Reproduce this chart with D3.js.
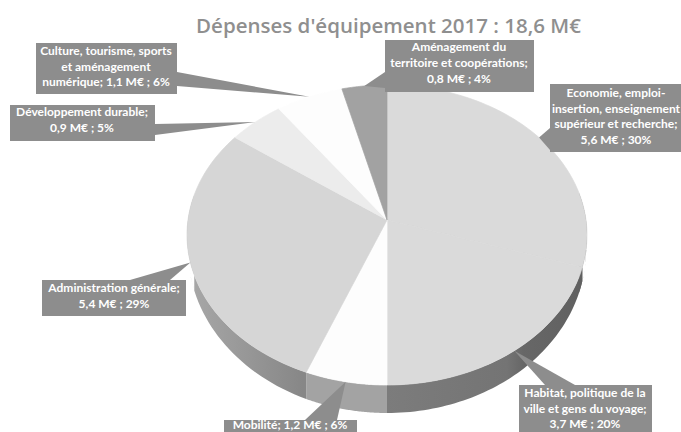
<!DOCTYPE html>
<html lang="fr">
<head>
<meta charset="utf-8">
<script src="https://cdn.jsdelivr.net/npm/d3@7/dist/d3.min.js"></script>
<style>
html,body{margin:0;background:#fff;}
svg{display:block;}
</style>
</head>
<body>
<svg id="chart" width="681" height="432"></svg>
<script>
const chartTitle = "Dépenses d'équipement 2017 : 18,6 M€";
const categories = [
  ["Economie, emploi-", "insertion, enseignement", "supérieur et recherche;"],
  ["Habitat, politique de la", "ville et gens du voyage;"],
  ["Mobilité;"],
  ["Administration générale;"],
  ["Développement durable;"],
  ["Culture, tourisme, sports", "et aménagement", "numérique;"],
  ["Aménagement du", "territoire et coopérations;"]
];
const amounts = [5.6, 3.7, 1.2, 5.4, 0.9, 1.1, 0.8];
const shares = [30, 20, 6, 29, 5, 6, 4];

// Face and wall tones per sector
const faceFills = ["#dadada", "#dadada", "#fdfdfd", "#d6d6d6", "#ececec", "#fdfdfd", "#a2a2a2"];
const wallFills = ["#666666", "url(#wallHabitat)", "#a3a3a3", "url(#wallAdmin)", "#bbbbbb", "#dddddd", "#888888"];

// Callout boxes: left, top, right, bottom, first baseline, line step, wedge base
const callouts = [
  {box:[550,84,681,152], cx:616, y0:97,  dy:15.5, base:[[550,128],[550,150]]},
  {box:[519,385,652,440], cx:585, y0:397, dy:15.5, base:[[545,385],[575,385]]},
  {box:[224,420,357,440], cx:290, y0:429, dy:15, base:[[305,420],[337,420]]},
  {box:[42,280,186,316], cx:114, y0:292, dy:15.5, base:[[130,280],[170,280]]},
  {box:[10,105,155,141], cx:82, y0:116, dy:16, base:[[155,124],[155,135]]},
  {box:[36,43,177,94], cx:106, y0:55, dy:15.5, base:[[177,72],[177,86]]},
  {box:[385,40,534,92], cx:459, y0:51, dy:16, base:[[385,72],[385,88]]}
];

const svg = d3.select("#chart");
// Disc seen in perspective: the centre projects to the apex, the far rim is compressed
const apex = {x: 387, y: 220};
const disc = {rx: 199, ry: 148.5, k: 0.1};
const low = {cx: 387, cy: 250, rx: 199, ry: 163};
const labelGrey = "#8d8d8d";

// Wall shading runs along x
const defs = svg.append("defs");
function hGradient(id, x1, x2, stops) {
  const g = defs.append("linearGradient").attr("id", id)
    .attr("gradientUnits", "userSpaceOnUse")
    .attr("x1", x1).attr("x2", x2).attr("y1", 0).attr("y2", 0);
  stops.forEach(([o, c]) => g.append("stop").attr("offset", o).attr("stop-color", c));
}
hGradient("wallHabitat", 387, 587, [[0, "#7c7c7c"], [0.6, "#747474"], [0.68, "#676767"], [1, "#606060"]]);
hGradient("wallAdmin", 187, 303, [[0, "#a8a8a8"], [1, "#878787"]]);

const pie = d3.pie().sort(null).value(d => d);
const arcs = pie(shares);

const rimX = a => apex.x + disc.rx * Math.sin(a) / (1 + disc.k * Math.cos(a));
const rimY = a => apex.y - disc.ry * Math.cos(a) / (1 + disc.k * Math.cos(a));
const lowY = x => {
  const t = Math.min(1, Math.abs(x - low.cx) / low.rx);
  return low.cy + low.ry * Math.sqrt(1 - t * t);
};
const line = d3.line().x(d => d[0]).y(d => d[1]);
const sweep = (a0, a1) => d3.range(0, 61).map(i => a0 + (a1 - a0) * i / 60);

// Side wall: band between the upper rim and the lower rim
const wallG = svg.append("g");
arcs.forEach((d, i) => {
  const angles = sweep(d.startAngle, d.endAngle).filter(a => Math.cos(a) < 0.2);
  if (!angles.length) return;
  const upper = angles.map(a => [rimX(a), rimY(a)]);
  const lower = upper.map(p => [p[0], Math.max(p[1], lowY(p[0]))]).reverse();
  wallG.append("path").attr("d", line(upper.concat(lower)) + "Z").attr("fill", wallFills[i]);
});

// Upper face of each sector, converging on the apex
const faceG = svg.append("g");
arcs.forEach((d, i) => {
  const pts = [[apex.x, apex.y]].concat(sweep(d.startAngle, d.endAngle).map(a => [rimX(a), rimY(a)]));
  faceG.append("path").attr("d", line(pts) + "Z")
    .attr("fill", faceFills[i])
    .attr("stroke", faceFills[i]).attr("stroke-width", 0.7);
});

// Callouts: wedge to the sector's rim, then box and white text
const calloutG = svg.append("g");
arcs.forEach((d, i) => {
  const c = callouts[i];
  const mid = (d.startAngle + d.endAngle) / 2;
  calloutG.append("path")
    .attr("d", line([c.base[0], [rimX(mid), rimY(mid)], c.base[1]]) + "Z")
    .attr("fill", labelGrey);
  calloutG.append("rect")
    .attr("x", c.box[0]).attr("y", c.box[1])
    .attr("width", c.box[2] - c.box[0]).attr("height", c.box[3] - c.box[1])
    .attr("fill", labelGrey);

  const valueText = `${String(amounts[i]).replace(".", ",")} M€ ; ${shares[i]}%`;
  const lines = categories[i].slice();
  if (i === 2 || i === 5) lines[lines.length - 1] += " " + valueText;
  else lines.push(valueText);

  lines.forEach((t, k) => {
    calloutG.append("text")
      .attr("x", c.cx).attr("y", c.y0 + k * c.dy)
      .attr("text-anchor", "middle")
      .attr("font-family", "Lato, sans-serif")
      .attr("font-size", 12).attr("font-weight", 700)
      .attr("fill", "#fff").text(t);
  });
});

svg.append("text")
  .attr("x", 388.5).attr("y", 33)
  .attr("text-anchor", "middle")
  .attr("font-family", "'Open Sans', sans-serif")
  .attr("font-size", 20.5).attr("font-weight", 600)
  .attr("fill", "#8f8f8f")
  .text(chartTitle);
</script>
</body>
</html>
